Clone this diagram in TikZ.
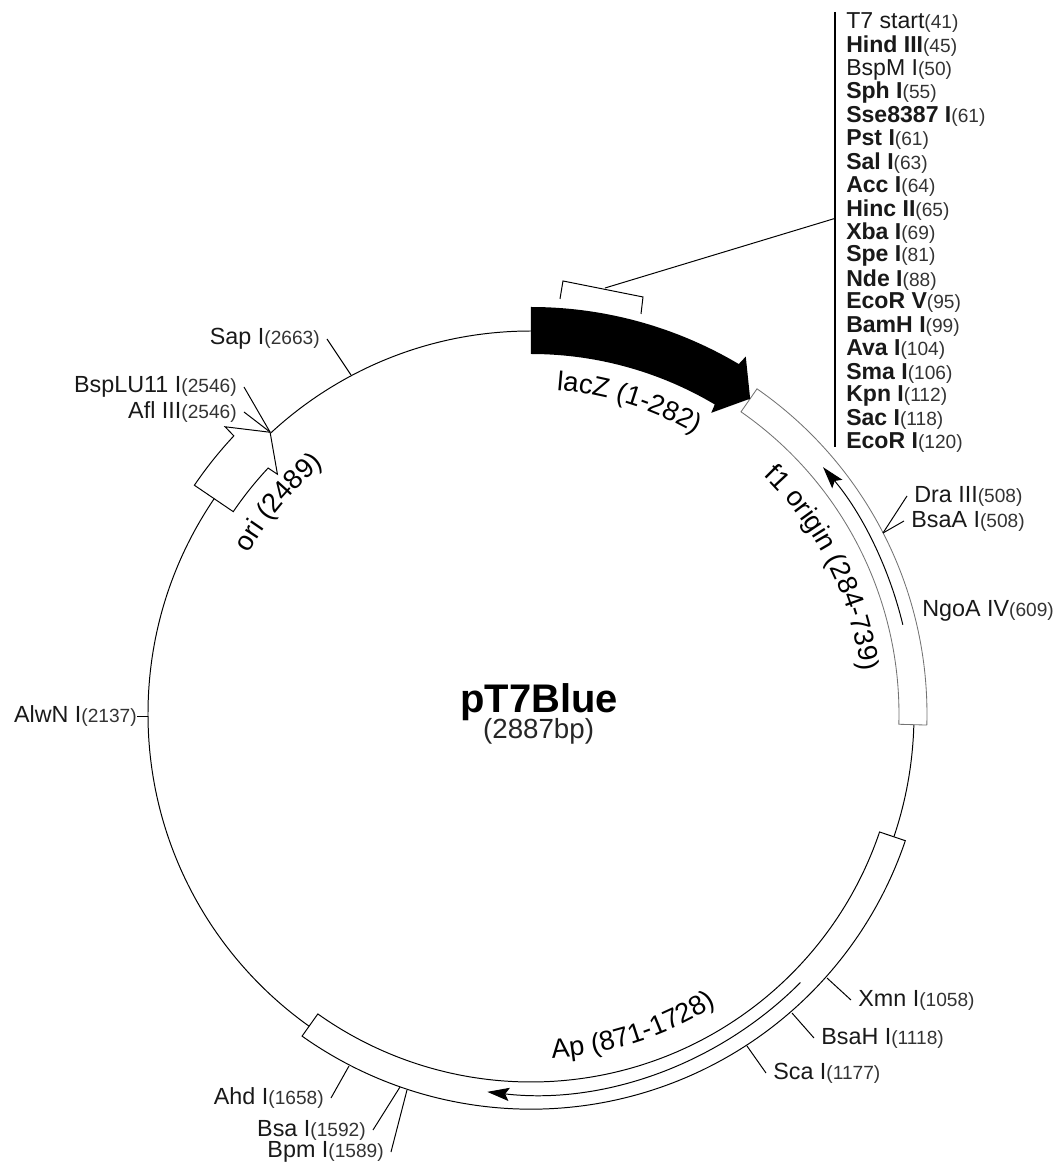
\documentclass[tikz,border=0pt]{standalone}
\usepackage{fontspec}
\setmainfont{Liberation Sans}
\usetikzlibrary{arrows.meta,decorations.text}
\newcommand{\sitepos}[1]{{\fontsize{13.6}{15}\selectfont\color{black!80}(#1)}}
\newcommand{\arcfont}{\fontsize{19.4}{21}\selectfont}
\tikzset{
  site/.style={font=\fontsize{16.6}{18}\selectfont,text=black!90,inner sep=5pt},
  mcs/.style={font=\fontsize{16.4}{18}\selectfont,text=black!90,inner sep=0pt,anchor=west},
  band/.style={draw=black,fill=white,line width=0.7pt},
  paleband/.style={draw=black!55,fill=white,line width=0.6pt},
  tick/.style={line width=0.7pt},
  arctext/.style={decorate,decoration={text along path,text align=center,text={#1}}}
}
\begin{document}
\begin{tikzpicture}[>={Stealth[length=5.5mm,width=3.3mm,inset=1mm]}]
\useasboundingbox (-13.275,-11.325) rectangle (13.2,17.85);
% backbone
\draw[line width=0.7pt] (0,0) circle (9.575);
% features
\draw[paleband] (55.2:9.2) arc[start angle=55.2,end angle=-1.6,radius=9.2] -- (-1.6:9.9) arc[start angle=-1.6,end angle=55.2,radius=9.9] -- cycle;
\draw[band] (-18.7:9.2) arc[start angle=-18.7,end angle=-125.4,radius=9.2] -- (-125.4:9.88) arc[start angle=-125.4,end angle=-18.7,radius=9.88] -- cycle;
\draw[band] (145.8:10.175) arc[start angle=145.8,end angle=136.9,radius=10.175] -- (136.8:10.49) -- (132.8:9.6) -- (136.6:8.725) -- (136.9:9.0) arc[start angle=136.9,end angle=145.8,radius=9.0] -- cycle;
\fill[black] (90:10.175) arc[start angle=90,end angle=59.3,radius=10.175] -- (59:10.425) -- (55.2:9.6) -- (59.1:8.775) -- (59.3:9.0) arc[start angle=59.3,end angle=90,radius=9.0] -- cycle;
\draw[->,line width=0.7pt] (13.5:9.56) arc[start angle=13.5,end angle=40.2,radius=9.56];
\draw[->,line width=0.7pt] (-44.9:9.51) arc[start angle=-44.9,end angle=-96.6,radius=9.51];
% curved names
\path[arctext={|\arcfont|lacZ (1-282)}] (88:8.12) arc[start angle=88,end angle=57,radius=8.12];
\path[arctext={|\arcfont|f1 origin (284-739)}] (47:8.32) arc[start angle=47,end angle=6,radius=8.32];
\path[arctext={|\arcfont|ori (2489)}] (152:8.12) arc[start angle=152,end angle=128,radius=8.12];
\path[arctext={|\arcfont|Ap (871-1728)}] (-88:8.62) arc[start angle=-88,end angle=-56,radius=8.62];
% title
\node[font=\bfseries\fontsize{28.4}{30}\selectfont] (title) at (0.2,0.3) {pT7Blue};
\node[font=\fontsize{19.7}{22}\selectfont,text=black!85] (size) at (0.19,-0.44) {(2887bp)};
% cloning sites
\coordinate (bracketa) at (0.725,10.375);
\coordinate (bracketb) at (0.8,10.825);
\coordinate (bracketc) at (2.8,10.425);
\coordinate (bracketd) at (2.75,10.0);
\coordinate (bracketmid) at (1.85,10.65);
\coordinate (bartop) at (7.6,17.55);
\coordinate (barjoin) at (7.6,12.39);
\coordinate (barbot) at (7.6,6.675);
\draw[tick] (bracketa) -- (bracketb) -- (bracketc) -- (bracketd);
\draw[tick] (bracketmid) -- (barjoin);
\draw[line width=0.8pt] (bartop) -- (barbot);
\node[mcs] (tstart) at (7.875,17.275) {T7 start\sitepos{41}};
\node[mcs] (hind) at (7.875,16.692) {\textbf{Hind III}\sitepos{45}};
\node[mcs] (bspm) at (7.875,16.108) {BspM I\sitepos{50}};
\node[mcs] (sph) at (7.875,15.525) {\textbf{Sph I}\sitepos{55}};
\node[mcs] (sse) at (7.875,14.942) {\textbf{Sse8387 I}\sitepos{61}};
\node[mcs] (pst) at (7.875,14.358) {\textbf{Pst I}\sitepos{61}};
\node[mcs] (sal) at (7.875,13.775) {\textbf{Sal I}\sitepos{63}};
\node[mcs] (acc) at (7.875,13.192) {\textbf{Acc I}\sitepos{64}};
\node[mcs] (hinc) at (7.875,12.608) {\textbf{Hinc II}\sitepos{65}};
\node[mcs] (xba) at (7.875,12.025) {\textbf{Xba I}\sitepos{69}};
\node[mcs] (spe) at (7.875,11.442) {\textbf{Spe I}\sitepos{81}};
\node[mcs] (nde) at (7.875,10.858) {\textbf{Nde I}\sitepos{88}};
\node[mcs] (ecorv) at (7.875,10.275) {\textbf{EcoR V}\sitepos{95}};
\node[mcs] (bamh) at (7.875,9.692) {\textbf{BamH I}\sitepos{99}};
\node[mcs] (ava) at (7.875,9.108) {\textbf{Ava I}\sitepos{104}};
\node[mcs] (sma) at (7.875,8.525) {\textbf{Sma I}\sitepos{106}};
\node[mcs] (kpn) at (7.875,7.942) {\textbf{Kpn I}\sitepos{112}};
\node[mcs] (sac) at (7.875,7.358) {\textbf{Sac I}\sitepos{118}};
\node[mcs] (ecori) at (7.875,6.775) {\textbf{EcoR I}\sitepos{120}};
% other sites
\node[site,anchor=east] (sap) at (-5.1,9.375) {Sap I\sitepos{2663}};
\node[site,anchor=east] (bsplu) at (-7.175,8.175) {BspLU11 I\sitepos{2546}};
\node[site,anchor=east] (afl) at (-7.175,7.55) {Afl III\sitepos{2546}};
\node[site,anchor=west] (dra) at (9.4,5.45) {Dra III\sitepos{508}};
\node[site,anchor=west] (bsaa) at (9.325,4.825) {BsaA I\sitepos{508}};
\node[site,anchor=west] (ngoa) at (9.6,2.575) {NgoA IV\sitepos{609}};
\node[site,anchor=east,inner sep=0pt] (alwn) at (-9.85,-0.05) {AlwN I\sitepos{2137}};
\node[site,anchor=east] (ahd) at (-5.0,-9.6) {Ahd I\sitepos{1658}};
\node[site,anchor=east] (bsa) at (-3.95,-10.4) {Bsa I\sitepos{1592}};
\node[site,anchor=east] (bpm) at (-3.5,-10.95) {Bpm I\sitepos{1589}};
\node[site,anchor=west] (xmn) at (8.0,-7.15) {Xmn I\sitepos{1058}};
\node[site,anchor=west] (bsah) at (7.075,-8.1) {BsaH I\sitepos{1118}};
\node[site,anchor=west] (sca) at (5.875,-8.975) {Sca I\sitepos{1177}};
\coordinate (sapsite) at (-4.5,8.475);
\coordinate (bspsite) at (-6.525,7.05);
\coordinate (drasite) at (8.8,4.525);
\coordinate (alwnsite) at (-9.575,-0.05);
\coordinate (ahdsite) at (-4.55,-8.8);
\coordinate (bsasite) at (-3.275,-9.325);
\coordinate (bpmsite) at (-3.1,-9.4);
\coordinate (xmnsite) at (7.4,-6.6);
\coordinate (bsahsite) at (6.525,-7.475);
\coordinate (scasite) at (5.4,-8.3);
\draw[tick] (sapsite) -- (sap.east);
\draw[tick] (bspsite) -- (bsplu.east);
\draw[tick] (bspsite) -- (afl.east);
\draw[tick] (drasite) -- (dra.west);
\draw[tick] (drasite) -- (bsaa.west);
\draw[tick] (alwnsite) -- (alwn.east);
\draw[tick] (ahdsite) -- (ahd.east);
\draw[tick] (bsasite) -- (bsa.east);
\draw[tick] (bpmsite) -- (bpm.east);
\draw[tick] (xmnsite) -- (xmn.west);
\draw[tick] (bsahsite) -- (bsah.west);
\draw[tick] (scasite) -- (sca.west);
\end{tikzpicture}
\end{document}
